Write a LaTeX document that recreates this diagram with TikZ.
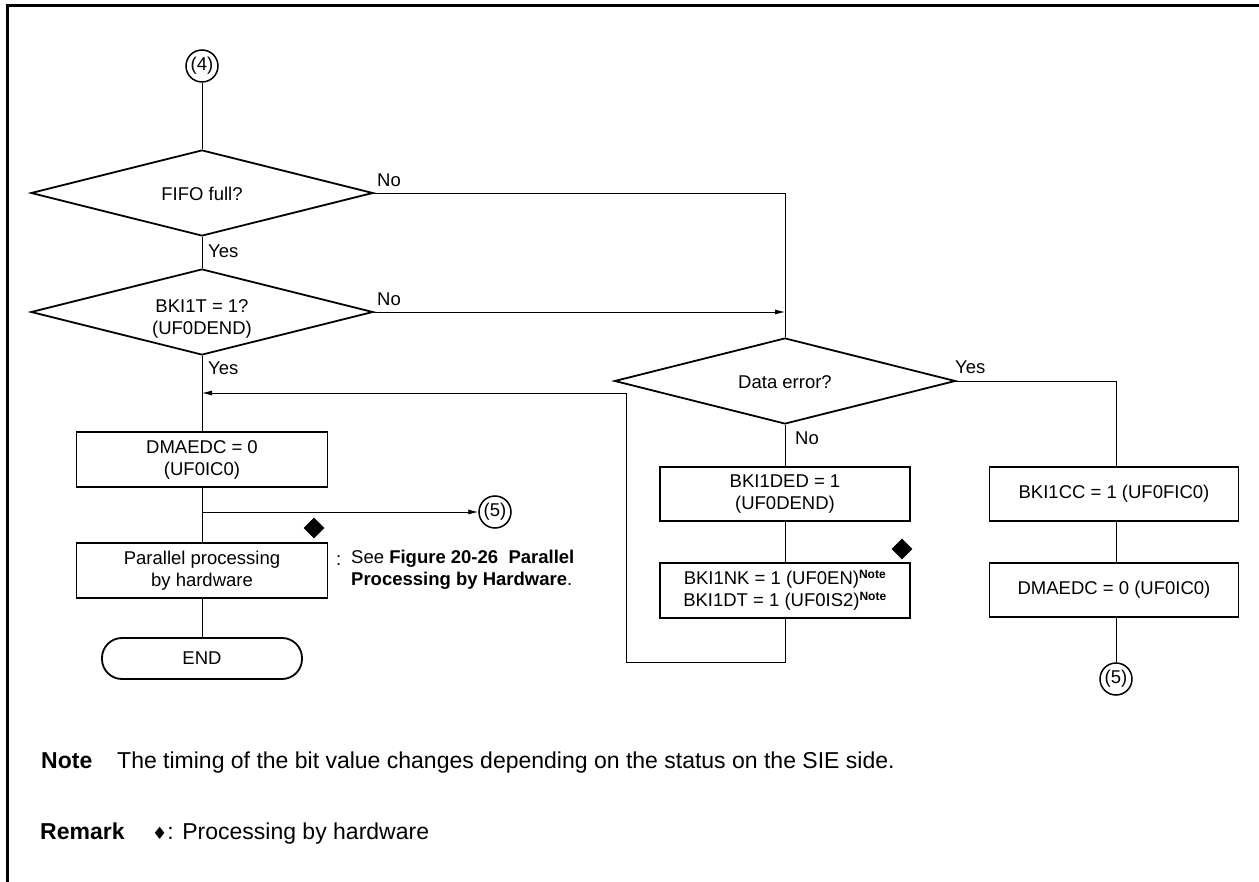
\documentclass[tikz,border=0pt]{standalone}
\usepackage{fontspec}
\setmainfont{Liberation Sans}
\newfontfamily\symfont{DejaVu Sans}
\usetikzlibrary{shapes.geometric,arrows.meta}
\begin{document}
\begin{tikzpicture}[x=1pt,y=-1pt,
  font=\fontsize{18.5}{22}\selectfont,
  decision/.style={diamond,draw,line width=1.8pt,inner sep=0pt,minimum width=342pt,minimum height=86pt},
  dtext/.style={inner sep=0pt,align=center},
  proc/.style={rectangle,draw,line width=1.8pt,inner sep=0pt,align=center},
  conn/.style={circle,draw,line width=1.5pt,inner sep=0pt,minimum size=32pt},
  flow/.style={line width=0.8pt},
  arr/.style={flow,-{Latex[length=10pt,width=5pt]}},
  hw/.style={diamond,fill=black,inner sep=0pt,minimum width=21pt,minimum height=21pt},
  lbl/.style={inner sep=0pt,anchor=west},
  notefont/.style={inner sep=0pt,anchor=base west,font=\fontsize{23}{27}\selectfont},
]
\useasboundingbox (0,0) rectangle (1259,882);
% frame
\draw[line width=3pt] (7,882) -- (7,6) -- (1259,6);

% left column
\node[conn] (c4) at (202,66) {(4)};
\node[decision] (d1) at (202,193) {};
\node[dtext] (d1t) at (202,194) {FIFO full?};
\node[decision] (d2) at (202,312) {};
\node[dtext] (d2t) at (202,319) {BKI1T = 1?\\(UF0DEND)};
\node[proc,minimum width=251pt,minimum height=55pt] (b1) at (202,459.5) {DMAEDC = 0\\(UF0IC0)};
\node[conn] (c5a) at (495,512) {(5)};
\coordinate (br) at (202,512);
\node[hw] (hw1) at (314,528) {};
\node[proc,minimum width=251pt,minimum height=55pt] (par) at (202,570.5) {Parallel processing\\by hardware};
\node[rectangle,draw,line width=1.8pt,rounded corners=20pt,minimum width=200pt,minimum height=41pt,inner sep=0pt] (endn) at (202,658.5) {END};
\node[lbl] (colon) at (336,561) {:};
\node[inner sep=0pt,anchor=north west,align=left] (see) at (351,550) {See \textbf{Figure 20-26\ \ Parallel}\\\textbf{Processing by Hardware}.};

% labels
\node[lbl] (no1) at (377,180) {No};
\node[lbl] (yes1) at (208,251) {Yes};
\node[lbl] (no2) at (377,299) {No};
\node[lbl] (yes2) at (208,368) {Yes};

% right part
\node[decision,minimum width=341pt] (dd) at (785,381) {};
\node[dtext] (ddt) at (785,382) {Data error?};
\node[lbl] (yes3) at (955,367) {Yes};
\node[lbl] (no3) at (795,438) {No};
\node[proc,minimum width=250pt,minimum height=54pt] (ded) at (785,494) {BKI1DED = 1\\(UF0DEND)};
\node[hw] (hw2) at (902,549) {};
\node[proc,minimum width=250pt,minimum height=55pt] (nk) at (785,590.5) {BKI1NK = 1 (UF0EN)\textsuperscript{\fontsize{12}{12}\selectfont\bfseries Note}\\BKI1DT = 1 (UF0IS2)\textsuperscript{\fontsize{12}{12}\selectfont\bfseries Note}};
\coordinate (r1) at (785,662);
\coordinate (r2) at (626,662);
\coordinate (r3) at (626,393);
\coordinate (r4) at (202,393);
\node[proc,minimum width=249pt,minimum height=54pt] (cc) at (1114,494) {BKI1CC = 1 (UF0FIC0)};
\node[proc,minimum width=249pt,minimum height=54pt] (dm) at (1114,590) {DMAEDC = 0 (UF0IC0)};
\node[conn] (c5b) at (1116,679) {(5)};

% connectors
\draw[flow] (c4) -- (d1.north);
\draw[flow] (d1.south) -- (d2.north);
\draw[flow] (d2.south) -- (b1.north);
\draw[flow] (b1.south) -- (par.north);
\draw[flow] (par.south) -- (endn.north);
\draw[arr] (br) -- (c5a);
\draw[flow] (d1.east) -| (dd.north);
\draw[arr] (d2.east) -- (dd.north |- d2.east);
\draw[flow] (dd.east) -| (c5b.north |- cc.north);
\draw[flow] (dd.south) -- (ded.north);
\draw[flow] (ded.south) -- (nk.north);
\draw[arr] (nk.south) -- (r1) -- (r2) -- (r3) -- (r4);
\draw[flow] (cc.south -| c5b) -- (dm.north -| c5b);
\draw[flow] (dm.south -| c5b) -- (c5b.north);

% notes
\node[notefont] (notek) at (41,768) {\textbf{Note}};
\node[notefont] (notet) at (117,768) {The timing of the bit value changes depending on the status on the SIE side.};
\node[notefont] (remk) at (40,839) {\textbf{Remark}};
\node[notefont] (remt) at (152,839) {{\symfont\fontsize{17}{17}\selectfont ♦}: Processing by hardware};
\end{tikzpicture}
\end{document}
